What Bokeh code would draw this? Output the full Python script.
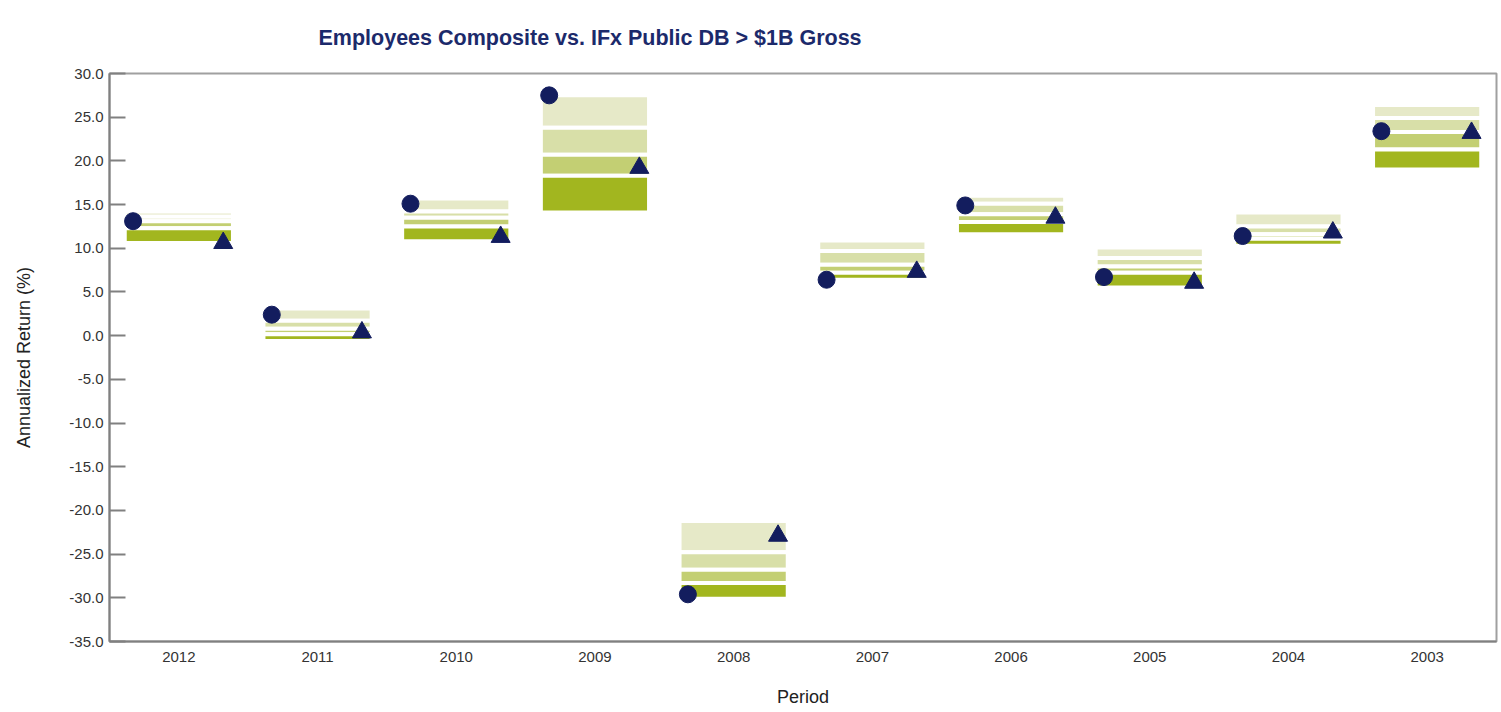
from bokeh.plotting import figure
from bokeh.models import FactorRange, Range1d, FixedTicker, NumeralTickFormatter, ColumnDataSource
from bokeh.transform import dodge
from bokeh.embed import file_html
from bokeh.resources import INLINE

years = ["2012", "2011", "2010", "2009", "2008", "2007", "2006", "2005", "2004", "2003"]
pct5 = [14.2, 3.1, 15.7, 27.5, -21.2, 10.9, 16.0, 10.1, 14.1, 26.4]
pct25 = [13.6, 1.7, 14.2, 23.8, -24.8, 9.7, 15.1, 8.9, 12.5, 24.9]
median = [13.1, 0.8, 13.5, 20.7, -26.8, 8.1, 13.9, 7.9, 11.6, 23.3]
pct75 = [12.3, 0.15, 12.5, 18.3, -28.3, 7.2, 13.0, 7.2, 11.1, 21.3]
pct95 = [10.6, -0.6, 10.8, 14.1, -30.1, 6.4, 11.6, 5.5, 10.3, 19.0]
composite = [13.1, 2.4, 15.1, 27.5, -29.6, 6.4, 14.9, 6.7, 11.4, 23.4]
index_ret = [10.6, 0.37, 11.3, 19.2, -22.9, 7.3, 13.5, 6.05, 11.8, 23.2]
y_ticks = [-35, -30, -25, -20, -15, -10, -5, 0, 5, 10, 15, 20, 25, 30]
title_text = "Employees Composite vs. IFx Public DB > $1B Gross"

FONT = "Liberation Sans"

src = ColumnDataSource(dict(year=years, p5=pct5, p25=pct25, p50=median, p75=pct75,
                            p95=pct95, comp=composite, idx=index_ret))

p = figure(width=1500, height=710, x_range=FactorRange(factors=years),
           y_range=Range1d(-35, 30), output_backend="svg", toolbar_location=None,
           min_border_left=109, min_border_right=4, min_border_top=73, min_border_bottom=69)

band_colors = ["#e6e9c8", "#d8dfa8", "#c3cf73", "#a2b61f"]
bounds = [("p5", "p25"), ("p25", "p50"), ("p50", "p75"), ("p75", "p95")]
for (t, b), c in zip(bounds, band_colors):
    p.vbar(x="year", width=0.78, top=t, bottom=b, source=src, fill_color=c,
           line_color="white", line_width=4)

p.scatter(x=dodge("year", -0.33, range=p.x_range), y="comp", source=src,
          marker="circle", size=17, fill_color="#131d5e", line_color="#131d5e")
p.scatter(x=dodge("year", 0.32, range=p.x_range), y="idx", source=src,
          marker="triangle", size=19, fill_color="#131d5e", line_color="#131d5e")

p.title.text = title_text
p.title.align = "left"
p.title.offset = 209
p.title.standoff = 44
p.title.vertical_align = "top"
p.title.text_font = FONT
p.title.text_font_size = "21.5px"
p.title.text_font_style = "bold"
p.title.text_color = "#1c2a6b"

p.xgrid.visible = False
p.ygrid.visible = False
p.outline_line_color = "#a0a0a0"
p.outline_line_width = 2

ya = p.yaxis[0]
ya.ticker = FixedTicker(ticks=y_ticks)
ya.formatter = NumeralTickFormatter(format="0.0")
ya.major_tick_in = 16
ya.major_tick_out = 0
ya.minor_tick_in = 0
ya.minor_tick_out = 0
ya.axis_line_color = "#808080"
ya.axis_line_width = 2
ya.major_tick_line_color = "#808080"
ya.major_tick_line_width = 2
ya.major_label_standoff = 6
ya.major_label_text_font = FONT
ya.major_label_text_font_size = "15px"
ya.major_label_text_color = "#333333"
ya.axis_label = "Annualized Return (%)"
ya.axis_label_text_font = FONT
ya.axis_label_text_font_size = "18px"
ya.axis_label_text_font_style = "normal"
ya.axis_label_text_color = "#222222"
ya.axis_label_standoff = 32

xa = p.xaxis[0]
xa.major_tick_line_color = None
xa.minor_tick_line_color = None
xa.axis_line_color = "#808080"
xa.axis_line_width = 2
xa.major_label_standoff = 4
xa.major_label_text_font = FONT
xa.major_label_text_font_size = "15px"
xa.major_label_text_color = "#333333"
xa.axis_label = "Period"
xa.axis_label_text_font = FONT
xa.axis_label_text_font_size = "18px"
xa.axis_label_text_font_style = "normal"
xa.axis_label_text_color = "#222222"
xa.axis_label_standoff = 22

open("out.html", "w").write(file_html(p, INLINE))
